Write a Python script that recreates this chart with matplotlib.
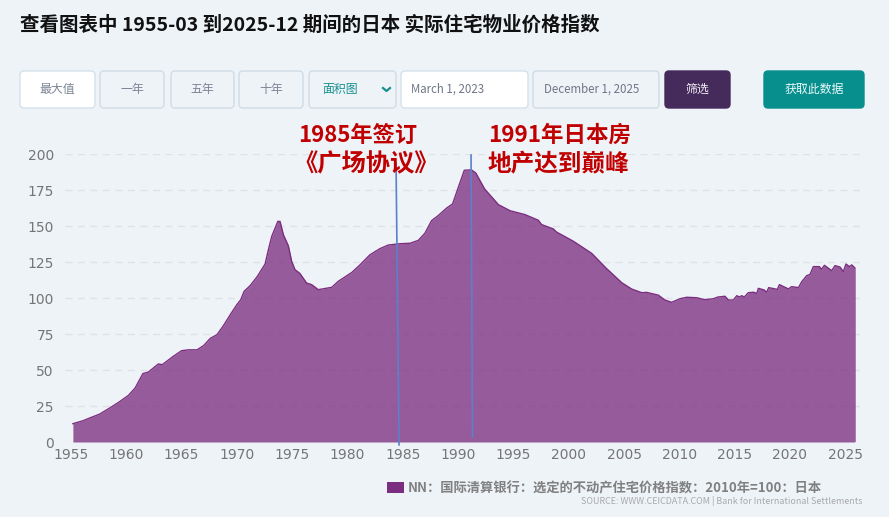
import matplotlib
matplotlib.use('Agg')
import matplotlib.pyplot as plt
from matplotlib.patches import FancyBboxPatch

plt.rcParams['font.family'] = ['Noto Sans CJK SC', 'DejaVu Sans']

# values
years = [1955.17, 1956.1, 1956.7, 1957.6, 1958.5, 1959.3, 1960.2, 1960.8, 1961.5, 1962.0,
         1962.9, 1963.25, 1964.25, 1965.0, 1965.6, 1966.4, 1967.0, 1967.6, 1968.2, 1968.8,
         1969.4, 1970.0, 1970.35, 1970.65, 1971.2, 1971.85, 1972.55, 1972.85, 1973.15, 1973.7,
         1973.9, 1974.2, 1974.65, 1974.95, 1975.25, 1975.7, 1976.3, 1976.75, 1977.36, 1978.57,
         1979.17, 1980.4, 1981.13, 1982.03, 1982.94, 1983.7, 1984.75, 1985.65, 1986.4, 1987.0,
         1987.6, 1988.2, 1988.97, 1989.5, 1990.0, 1990.56, 1991.2, 1991.6, 1992.4, 1993.65,
         1994.7, 1996.05, 1997.25, 1997.55, 1998.6, 1998.9, 2000.4, 2002.08, 2003.4, 2004.8,
         2005.7, 2006.6, 2007.05, 2008.1, 2008.7, 2009.3, 2010.07, 2010.67, 2011.57, 2012.3,
         2013.08, 2013.5, 2014.13, 2014.44, 2014.89, 2015.2, 2015.43, 2015.64, 2015.88, 2016.24,
         2016.76, 2017.0, 2017.15, 2017.66, 2017.9, 2018.08, 2018.87, 2019.05, 2019.86, 2020.16,
         2020.77, 2021.07, 2021.52, 2021.82, 2022.12, 2022.66, 2022.87, 2023.12, 2023.78, 2024.08,
         2024.53, 2024.83, 2025.07, 2025.38, 2025.59, 2025.86]
index_values = [12.7, 14.8, 16.7, 19.4, 23.6, 27.5, 32.4, 37.5, 47.5, 48.6,
                54.2, 53.7, 59.5, 63.4, 64.0, 64.0, 67.0, 72.0, 74.5, 81.0,
                88.4, 95.4, 98.8, 104.6, 108.6, 115.0, 123.6, 133.6, 142.8, 153.2,
                153.2, 144.0, 136.3, 125.5, 119.7, 117.0, 110.4, 109.3, 105.8, 107.4,
                111.6, 117.8, 123.0, 130.0, 134.3, 136.8, 137.7, 138.0, 140.0, 145.0,
                153.7, 157.2, 162.5, 165.3, 176.4, 188.7, 189.0, 186.8, 175.7, 164.8,
                160.6, 157.9, 154.0, 151.0, 148.0, 145.8, 139.5, 131.0, 120.6, 110.6,
                106.2, 103.7, 103.9, 102.0, 98.6, 97.0, 99.5, 100.5, 100.2, 98.8,
                99.5, 100.7, 101.2, 98.6, 98.6, 101.6, 100.7, 101.6, 100.7, 103.7,
                104.0, 103.0, 106.7, 105.6, 104.0, 107.2, 106.0, 109.3, 106.3, 107.9,
                107.2, 111.3, 115.5, 116.4, 121.8, 121.8, 120.0, 122.7, 119.0, 122.5,
                121.5, 118.3, 123.6, 121.8, 123.0, 121.0]

x_ticks = list(range(1955, 2030, 5))
y_ticks = list(range(0, 225, 25))

plaza_x = [1984.39, 1984.66]
plaza_y = [193.6, -2]
peak_x = [1991.17, 1991.3]
peak_y = [199.3, 3.5]

title = '查看图表中 1955-03 到2025-12 期间的日本 实际住宅物业价格指数'
legend_text = 'NN：国际清算银行：选定的不动产住宅价格指数：2010年=100：日本'
source_text = 'SOURCE: WWW.CEICDATA.COM | Bank for International Settlements'

bg = '#eef3f8'
W, H = 889, 517
fig = plt.figure(figsize=(W / 100, H / 100), dpi=100, facecolor=bg)

# plot area, pixel edges
ax = fig.add_axes([65 / W, 1 - 442 / H, (863 - 65) / W, (442 - 154) / H], facecolor='none')
ax.set_xlim(1955 + (65 - 71) / 11.06, 1955 + (863 - 71) / 11.06)
ax.set_ylim(0, 200)
area = ax.fill_between(years, index_values, 0, color='#7b2d7f', alpha=0.77, lw=0, label=legend_text)
ax.plot(years, index_values, color='#7b2d7f', lw=1.0)
ax.plot([years[-1], years[-1]], [0, index_values[-1]], color='#7b2d7f', lw=0.6, alpha=0.6)
ax.plot(plaza_x, plaza_y, color='#5b80cc', lw=1.2, clip_on=False)
ax.plot(peak_x, peak_y, color='#5b80cc', lw=1.2, clip_on=False)

ax.set_xticks(x_ticks)
ax.set_yticks(y_ticks)
ax.tick_params(length=0, labelsize=10, labelcolor='#757575', pad=4)
ax.tick_params(axis='y', pad=8)
for lab in ax.get_xticklabels() + ax.get_yticklabels():
    lab.set_family('DejaVu Sans')
ax.grid(axis='y', color='#dfe3e8', lw=1, ls=(0, (5, 4)))
ax.set_axisbelow(True)
for s in ax.spines.values():
    s.set_visible(False)

leg = ax.legend(loc='center left', bbox_to_anchor=(387 / W, 1 - 488 / H), bbox_transform=fig.transFigure,
                frameon=False, borderpad=0, borderaxespad=0, handlelength=1.3, handleheight=0.9,
                handletextpad=0.3, prop={'size': 9.55, 'weight': 'bold'}, labelcolor='#808080')
leg.legend_handles[0].set_alpha(1)

# page furniture, drawn in pixel coordinates
ui = fig.add_axes([0, 0, 1, 1], facecolor='none')
ui.set_xlim(0, W)
ui.set_ylim(H, 0)
ui.axis('off')


def button(x0, x1, label, face, edge, color, text_x=None, ha='center', size=8.6):
    ui.add_patch(FancyBboxPatch((x0 + 3, 71 + 3), x1 - x0 - 6, 37 - 6,
                                boxstyle='round,pad=3,rounding_size=4',
                                fc=face, ec=edge, lw=1))
    ui.text((x0 + x1) / 2 if text_x is None else text_x, 89.5, label, color=color,
            ha=ha, va='center', fontsize=size)


button(20, 95, '最大值', 'white', '#d5e1e8', '#7b8494')
button(100, 164, '一年', bg, '#cfdce4', '#7b8494')
button(171, 234, '五年', bg, '#cfdce4', '#7b8494')
button(239, 303, '十年', bg, '#cfdce4', '#7b8494')
button(309, 396, '面积图', bg, '#cfdce4', '#19908f', text_x=322, ha='left')
button(401, 528, 'March 1, 2023', 'white', '#d5e1e8', '#6f7787', text_x=411, ha='left', size=8.3)
button(533, 659, 'December 1, 2025', bg, '#cfdce4', '#6f7787', text_x=544, ha='left', size=8.3)
button(665, 730, '筛选', '#452b5b', '#452b5b', '#f2eef5')
button(764, 864, '获取此数据', '#078f8e', '#078f8e', '#eafafa')
ui.plot([383, 386.5, 390], [88, 91, 88], color='#19908f', lw=1.6)

ui.text(20, 25, title, fontsize=14, fontweight='bold', color='#111111', va='center')
ui.text(298, 135, '1985年签订', color='#c00000', fontsize=16, fontweight='bold', ha='left', va='center')
ui.text(366, 164, '《广场协议》', color='#c00000', fontsize=17.5, fontweight='bold', ha='center', va='center')
ui.text(488, 135, '1991年日本房', color='#c00000', fontsize=16.2, fontweight='bold', ha='left', va='center')
ui.text(488, 164, '地产达到巅峰', color='#c00000', fontsize=17, fontweight='bold', ha='left', va='center')
ui.text(862, 501, source_text, color='#a9a9a9', fontsize=6.45, ha='right', va='center')

fig.savefig('out.png', dpi=100, facecolor=bg)
